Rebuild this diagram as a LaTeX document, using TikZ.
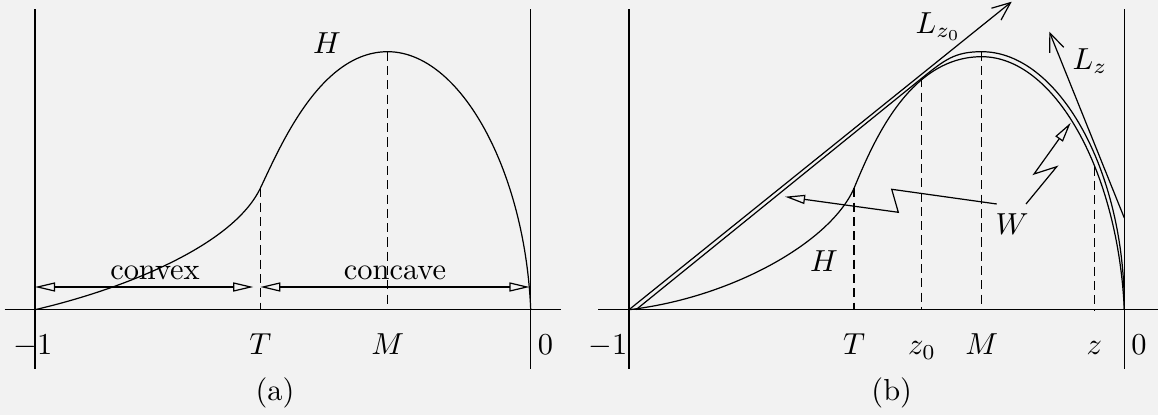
\documentclass[tikz,border=0pt]{standalone}
\usetikzlibrary{arrows.meta}
\definecolor{bgc}{RGB}{242,242,242}
\begin{document}
\begin{tikzpicture}[x=0.329pt,y=-0.329pt,line width=0.4pt,
  guide/.style={dash pattern=on 3pt off 1.7pt},
  span/.style={{Triangle[open,length=6.6pt,width=3pt]}-{Triangle[open,length=6.6pt,width=3pt]}},
  bolt/.style={-{Triangle[open,length=6.6pt,width=3pt]}},
  barb/.style={-{Straight Barb[length=6pt,width=5pt]}},
  lbl/.style={anchor=base,inner sep=0pt}]
\fill[bgc] (0,0) rectangle (1158,415);
\useasboundingbox (0,0) rectangle (1158,415);

% ---------------- panel (a) ----------------
\coordinate (aL0) at (35,9.3);    \coordinate (aL1) at (35,369.3);
\coordinate (aR0) at (530.7,9.3); \coordinate (aR1) at (530.7,369.3);
\coordinate (aX0) at (4.7,309.7); \coordinate (aX1) at (561,309.7);
\draw (aL0) -- (aL1);
\draw (aR0) -- (aR1);
\draw (aX0) -- (aX1);

\coordinate (aS) at (35,309.7);
\coordinate (aT) at (260.3,188.3);
\coordinate (aM) at (387.7,51.7);
\coordinate (aE) at (530.7,309.7);
\draw (aS) .. controls (120,290) and (232,247) .. (aT)
           .. controls (280,147) and (320,51.7) .. (aM)
           .. controls (460,51.7) and (525,170) .. (aE);

\coordinate (aTb) at (260.3,309.7);
\coordinate (aMb) at (387.7,309.7);
\draw[guide] (aT) -- (aTb);
\draw[guide] (aM) -- (aMb);

\coordinate (cv0) at (35,287);    \coordinate (cv1) at (253.3,287);
\coordinate (cc0) at (260.3,287); \coordinate (cc1) at (529.5,287);
\draw[span] (cv0) -- (cv1);
\draw[span] (cc0) -- (cc1);
\node[lbl] (convex) at (155,280) {convex};
\node[lbl] (concave) at (395,280) {concave};
\node[lbl] (aH) at (327,53.3) {$H$};

\node[lbl] (am1) at (33,355) {$-1$};
\node[lbl] (aTl) at (260.3,355) {$T$};
\node[lbl] (aMl) at (387.7,355) {$M$};
\node[lbl] (a0) at (545.5,355) {$0$};
\node[lbl] (acap) at (275,400.5) {(a)};

% ---------------- panel (b) ----------------
\coordinate (bL0) at (629,9.3);     \coordinate (bL1) at (629,369.3);
\coordinate (bR0) at (1124.3,9.3);  \coordinate (bR1) at (1124.3,369.3);
\coordinate (bX0) at (598.3,309.7); \coordinate (bX1) at (1158,309.7);
\draw (bL0) -- (bL1);
\draw (bR0) -- (bR1);
\draw (bX0) -- (bX1);

\coordinate (bS) at (629,309.7);
\coordinate (bT) at (854,188.3);
\coordinate (bM) at (981.7,56.7);
\coordinate (bE) at (1124.3,309.7);
% H
\draw (bS) .. controls (730,298) and (830,243) .. (bT)
           .. controls (874,140) and (910,56.7) .. (bM)
           .. controls (1054,56.7) and (1118,170) .. (bE);
% W
\coordinate (wS) at (636,309.7);
\coordinate (wZ0) at (921.7,78.3);
\coordinate (wM) at (981.7,51.7);
\draw (wS) -- (wZ0) .. controls (945,59.5) and (955,51.7) .. (wM)
           .. controls (1058,51.7) and (1125,170) .. (bE);

% tangent lines
\coordinate (lz0tip) at (1011.7,1.7);
\draw[barb] (bS) -- (lz0tip);
\coordinate (lzS) at (1124.3,218);
\coordinate (lztip) at (1049.3,31.7);
\draw[barb] (lzS) -- (lztip);

% guides
\coordinate (bTb) at (854,309.7);
\coordinate (bZ0b) at (921.7,309.7);
\coordinate (bMb) at (981.7,309.7);
\coordinate (bZ) at (1094.3,166.7);
\coordinate (bZb) at (1094.3,309.7);
\draw[guide] (bT) -- (bTb);
\draw[guide] (wZ0) -- (bZ0b);
\draw[guide] (wM) -- (bMb);
\draw[guide] (bZ) -- (bZb);

% W bolts
\coordinate (p1) at (996.7,204);
\coordinate (p2) at (891.7,189.3);
\coordinate (p3) at (898.3,212.3);
\coordinate (p4) at (785,196.7);
\draw[bolt] (p1) -- (p2) -- (p3) -- (p4);
\coordinate (q1) at (1026,204);
\coordinate (q2) at (1056.7,166.7);
\coordinate (q3) at (1034,174);
\coordinate (q4) at (1070.7,122.7);
\draw[bolt] (q1) -- (q2) -- (q3) -- (q4);

\node[lbl] (bW) at (1012,235) {$W$};
\node[lbl] (bH) at (824,271.7) {$H$};
\node[lbl,anchor=base west] (Lz0) at (915,33.3) {$L_{z_0}$};
\node[lbl,anchor=base west] (Lz) at (1072,69.3) {$L_z$};

\node[lbl,anchor=base east] (bm1) at (628,355) {$-1$};
\node[lbl] (bTl) at (854,355) {$T$};
\node[lbl] (bz0l) at (922,355) {$z_0$};
\node[lbl] (bMl) at (981.7,355) {$M$};
\node[lbl] (bzl) at (1094.3,355) {$z$};
\node[lbl] (b0) at (1139,355) {$0$};
\node[lbl] (bcap) at (891.7,400.5) {(b)};
\end{tikzpicture}
\end{document}
